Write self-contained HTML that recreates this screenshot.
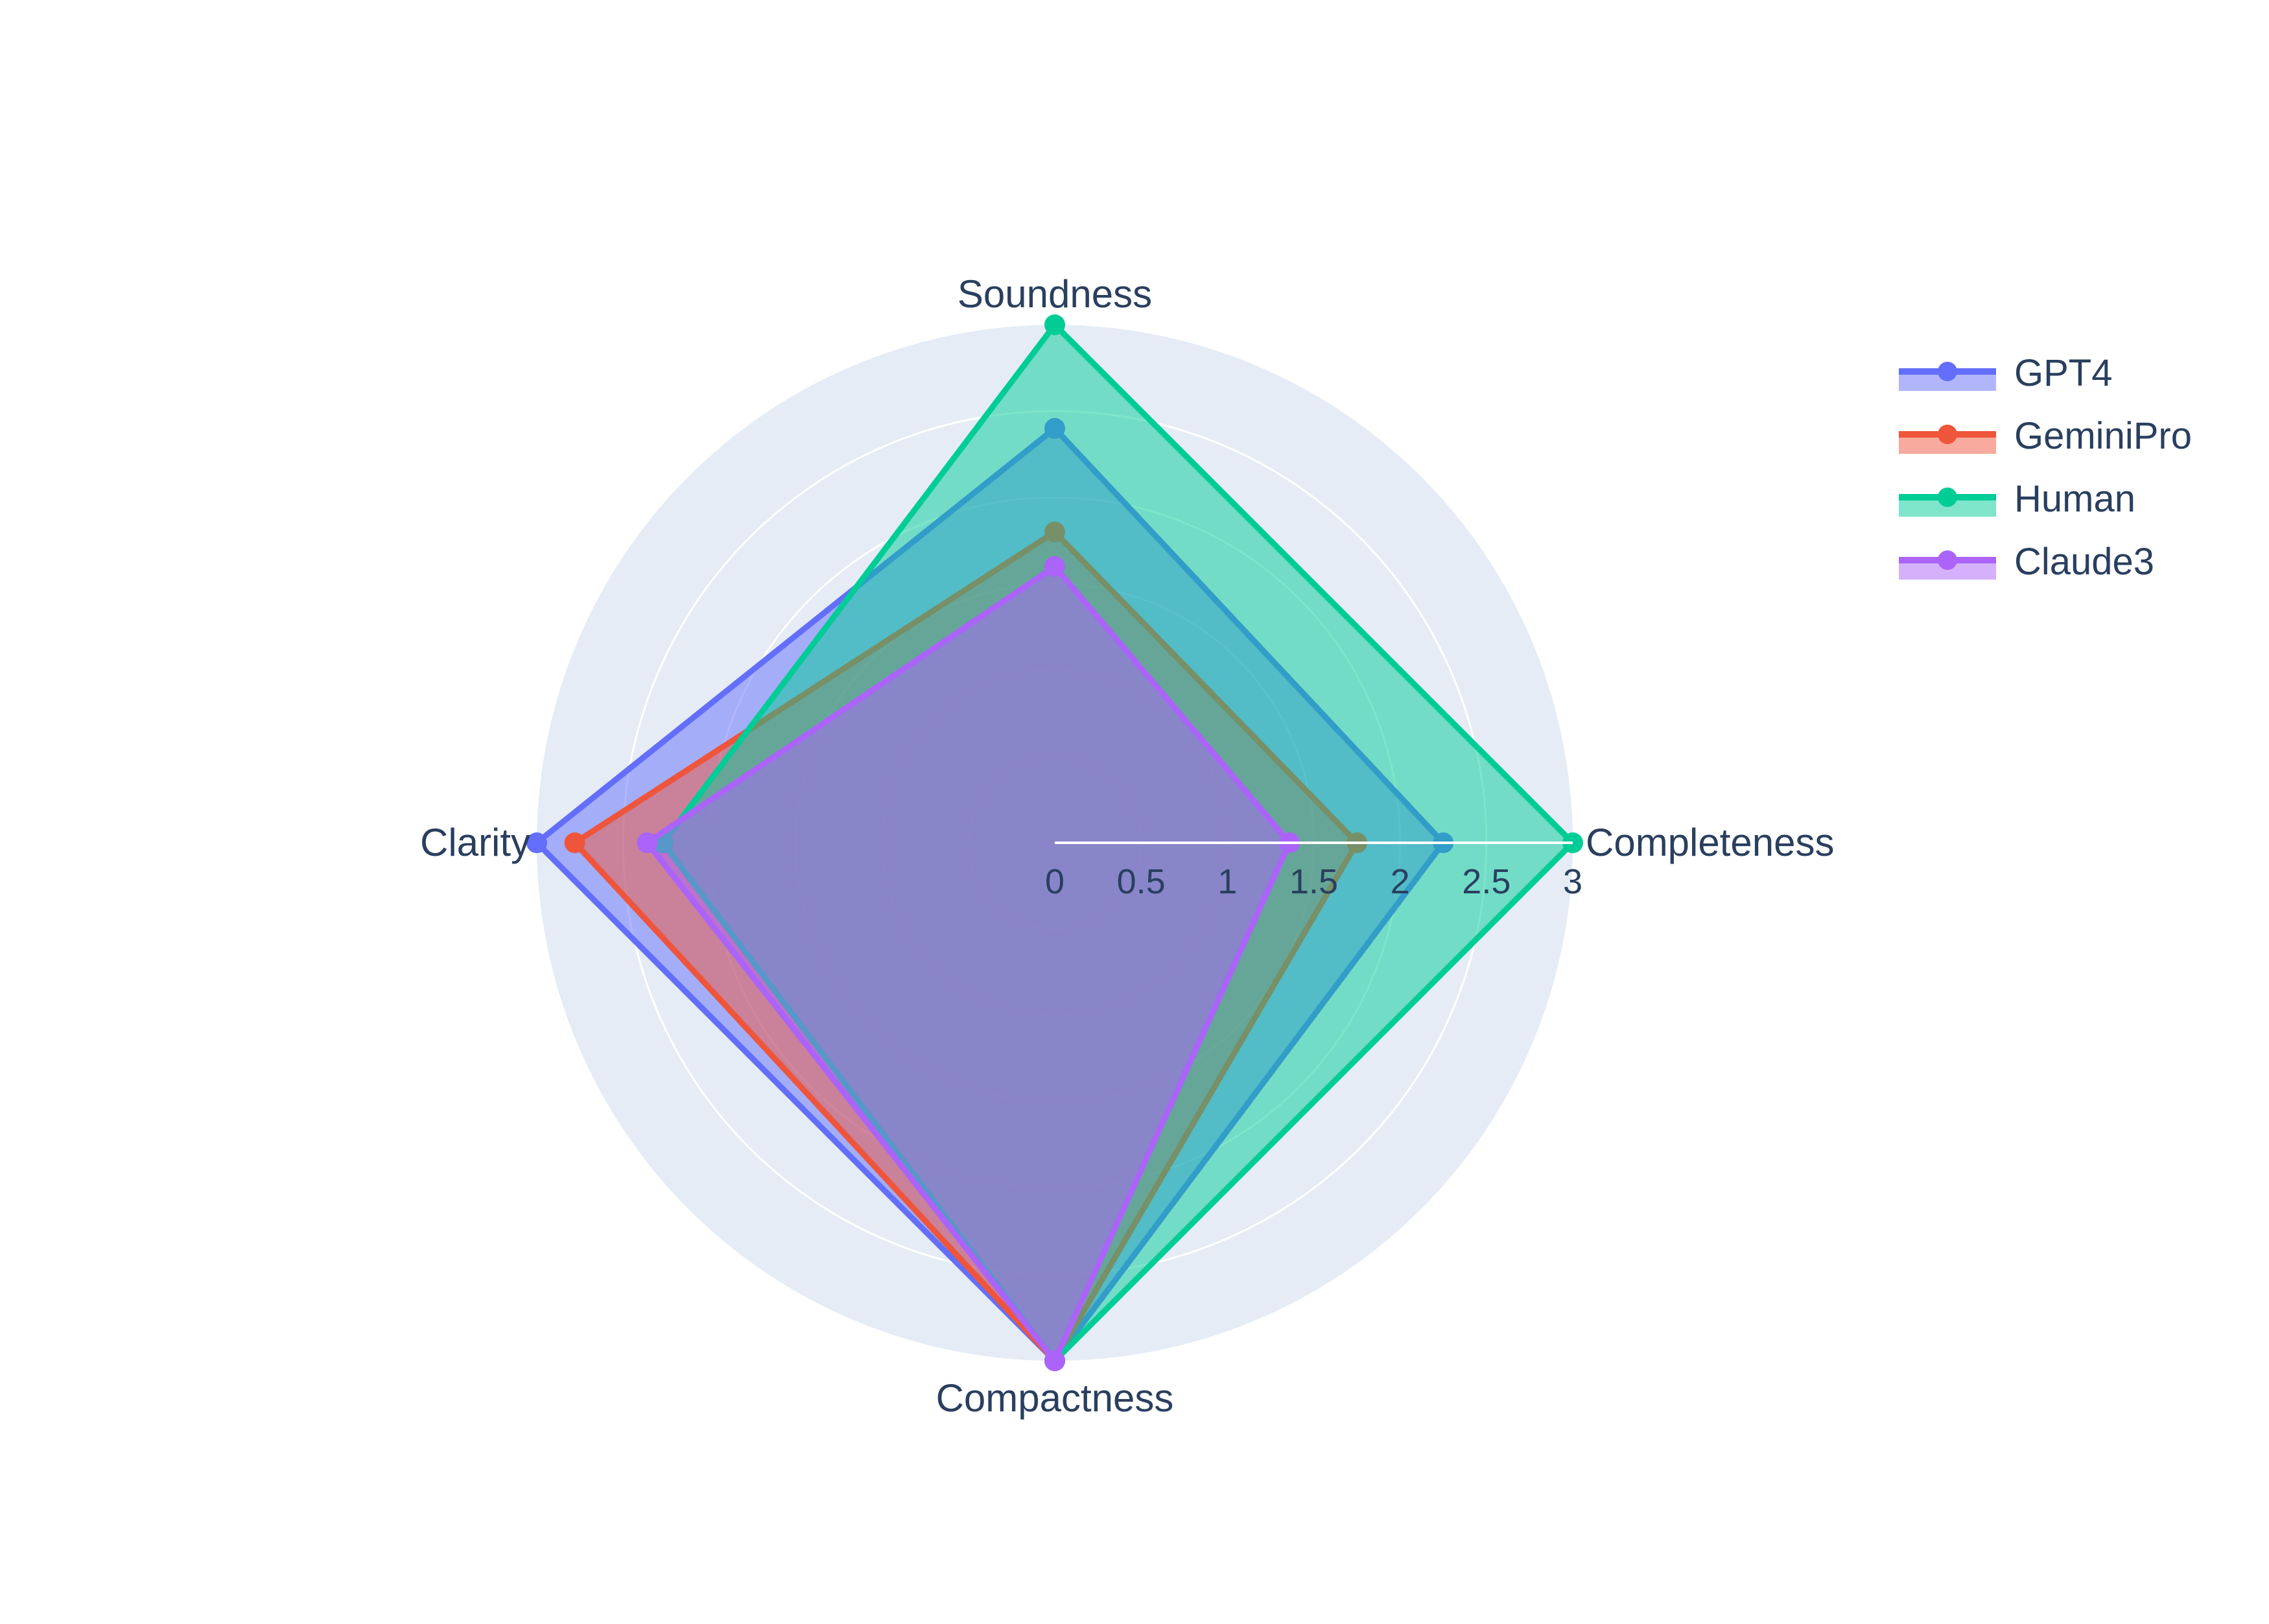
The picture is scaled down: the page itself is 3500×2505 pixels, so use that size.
<!DOCTYPE html>
<html><head><meta charset="utf-8"><style>
html,body{margin:0;padding:0;background:#fff}
svg text{font-family:"Liberation Sans","DejaVu Sans",sans-serif;fill:#2a3f5f}
</style></head><body>
<svg id="chart" width="3500" height="2500" xmlns="http://www.w3.org/2000/svg">
<g id="bg"></g><g id="traces"></g><g id="axes"></g><g id="legend"></g>
</svg>
<script>
const categories=["Soundness","Completeness","Compactness","Clarity"];
const seriesNames=["GPT4","GeminiPro","Human","Claude3"];
const gpt4=[2.4,2.25,3,3];
const geminiPro=[1.8,1.75,3,2.78];
const human=[3,3,3,2.27];
const claude3=[1.6,1.36,3,2.36];
const tickValues=[0,0.5,1,1.5,2,2.5,3];
const tickLabels=["0","0.5","1","1.5","2","2.5","3"];
const colors=["#636efa","#ef553b","#00cc96","#ab63fa"];
const allSeries=[gpt4,geminiPro,human,claude3];
const CX=1627,CY=1300,R=799,RMAX=3;
const NS="http://www.w3.org/2000/svg";
function rScale(v){return v/RMAX*R;}
function ang(i){return Math.PI/2 - i*2*Math.PI/categories.length;}
function pt(i,v){const a=ang(i);return [CX+rScale(v)*Math.cos(a),CY-rScale(v)*Math.sin(a)];}
function mk(tag,attrs,parent){const e=document.createElementNS(NS,tag);for(const k in attrs)e.setAttribute(k,attrs[k]);parent.appendChild(e);return e;}
const bg=document.getElementById('bg'),tr=document.getElementById('traces'),ax=document.getElementById('axes'),lg=document.getElementById('legend');
const disk=mk('circle',{cx:CX,cy:CY,r:R,fill:'#e5ecf6'},bg);


tickValues.forEach(function(v){if(v>0&&v<RMAX){const c=mk('circle',{cx:CX,cy:CY,r:rScale(v),fill:'none',stroke:'#fff','stroke-width':3},bg);

}});
allSeries.forEach(function(s,si){
 const pts=s.map(function(v,i){return pt(i,v);});
 const d=pts.map(function(p){return p[0].toFixed(1)+','+p[1].toFixed(1);}).join(' ');
 const g=mk('g',{},tr);
 
 
 const poly=mk('polygon',{points:d,fill:colors[si],'fill-opacity':0.5,stroke:colors[si],'stroke-width':9,'stroke-linejoin':'round'},g);
 
 
 pts.forEach(function(p,i){const c=mk('circle',{cx:p[0],cy:p[1],r:16,fill:colors[si]},g);
 
 });
});
const axl=mk('line',{x1:CX,y1:CY,x2:CX+R,y2:CY,stroke:'#fff','stroke-width':4},ax);


tickValues.forEach(function(v,i){const t=mk('text',{x:CX+rScale(v),y:1378,'font-size':54,'text-anchor':'middle'},ax);t.textContent=tickLabels[i];

});
const labelPos=[[CX,474,'middle'],[CX+R+20,CY+20,'start'],[CX,CY+R+78,'middle'],[CX-R-10,CY+20,'end']];
categories.forEach(function(c,i){const p=labelPos[i];const t=mk('text',{x:p[0],y:p[1],'font-size':60,'text-anchor':p[2]},ax);t.textContent=c;

});
seriesNames.forEach(function(n,i){const y=573+i*97;const g=mk('g',{},lg);


mk('rect',{x:2929,y:y,width:150,height:30,fill:colors[i],'fill-opacity':0.5},g);
mk('line',{x1:2929,y1:y,x2:3079,y2:y,stroke:colors[i],'stroke-width':10},g);
mk('circle',{cx:3004,cy:y,r:15,fill:colors[i]},g);
const t=mk('text',{x:3107,y:y+22,'font-size':58},g);t.textContent=n;});
</script>
</body></html>
